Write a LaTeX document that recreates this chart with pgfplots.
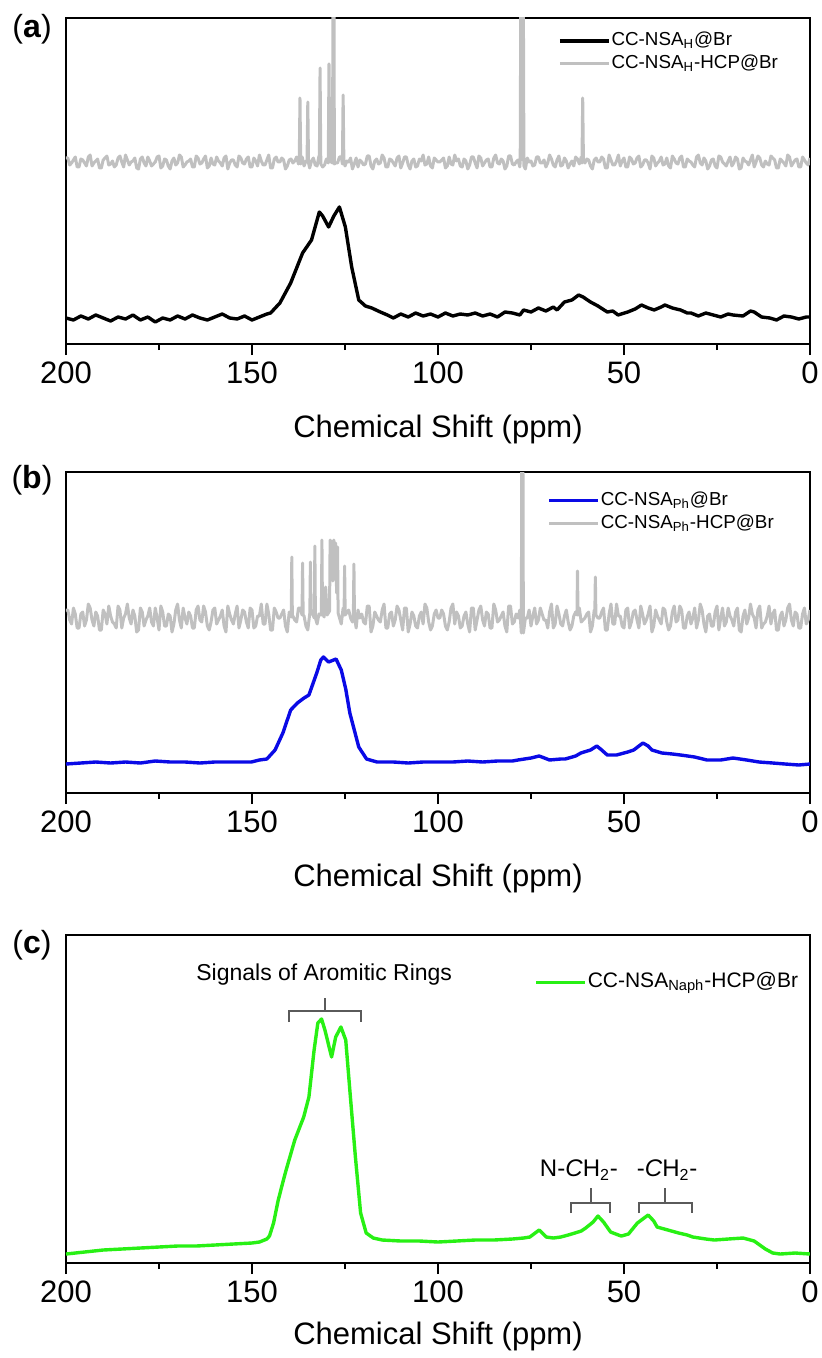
\documentclass[border=0pt]{standalone}
\usepackage{fontspec}
\setmainfont{Liberation Sans}
\usepackage{pgfplots}
\usepackage{pgfplotstable}
\pgfplotsset{compat=1.18}

\definecolor{hcpgrey}{RGB}{192,192,192}
\definecolor{phblue}{RGB}{10,10,230}
\definecolor{naphgreen}{RGB}{40,240,20}
\definecolor{bracketgrey}{RGB}{90,90,90}

% 13C NMR spectra (ppm, intensity in arbitrary stacked units)
\pgfplotstableread[row sep=\\]{
x y\\
200 186\\199.5 186\\199 179\\198.5 181\\198 184\\197.5 187\\197 177\\196.5 177\\196 185\\195.5 184\\195 181\\194.5 178\\194 187\\193.5 189\\193 178\\192.5 181\\192 183\\191.5 185\\191 176\\190.5 176\\
190 184\\189.5 186\\189 188\\188.5 179\\188 180\\187.5 183\\187 177\\186.5 179\\186 186\\185.5 188\\185 182\\184.5 177\\184 189\\183.5 184\\183 179\\182.5 182\\182 183\\181.5 186\\181 176\\180.5 175\\
180 185\\179.5 187\\179 181\\178.5 178\\178 187\\177.5 183\\177 178\\176.5 180\\176 182\\175.5 187\\175 188\\174.5 176\\174 178\\173.5 185\\173 184\\172.5 178\\172 175\\171.5 183\\171 186\\170.5 179\\
170 181\\169.5 189\\169 187\\168.5 177\\168 179\\167.5 182\\167 183\\166.5 185\\166 177\\165.5 177\\165 188\\164.5 186\\164 180\\163.5 181\\163 185\\162.5 188\\162 176\\161.5 178\\161 186\\160.5 180\\
160 179\\159.5 187\\159 183\\158.5 181\\158 178\\157.5 186\\157 188\\156.5 175\\156 181\\155.5 184\\155 184\\154.5 179\\154 177\\153.5 188\\153 186\\152.5 181\\152 180\\151.5 185\\151 187\\150.5 177\\
150 177\\149.5 186\\149 183\\148.5 178\\148 189\\147.5 183\\147 179\\146.5 179\\146 184\\145.5 189\\145 176\\144.5 176\\144 185\\143.5 187\\143 182\\142.5 182\\142 186\\141.5 184\\141 175\\140.5 178\\
140 184\\139.5 185\\139 181\\138.5 183\\138 187\\137.5 180\\137.3 182\\137.1 246\\136.9 180\\136.5 187\\136 178\\135.5 183\\135.2 183\\135.0 242\\134.8 181\\134.5 176\\
134 183\\133.5 186\\133 179\\132.5 178\\132 188\\131.9 182\\131.7 276\\131.5 180\\131 177\\130.5 179\\130 185\\129.5 181\\129.3 280\\129.1 183\\
128.35 181\\128.2 400\\128.1 183\\128.0 400\\127.85 180\\127.5 181\\127 181\\126.5 187\\126 187\\125.7 180\\125.5 249\\125.3 183\\
125 178\\124.5 183\\124 182\\123.5 186\\123 175\\122.5 180\\122 186\\121.5 177\\121 184\\120.5 182\\120 179\\119.5 180\\119 188\\118.5 188\\118 178\\117.5 175\\117 183\\116.5 185\\116 180\\115.5 181\\
115 189\\114.5 186\\114 177\\113.5 177\\113 185\\112.5 184\\112 181\\111.5 178\\111 186\\110.5 188\\110 176\\109.5 181\\109 187\\108.5 187\\108 179\\107.5 175\\107 183\\106.5 185\\106 177\\105.5 178\\
105 185\\104.5 183\\104 189\\103.5 179\\103 180\\102.5 187\\102 178\\101.5 176\\101 186\\100.5 184\\100 182\\99.5 182\\99 184\\98.5 186\\98 176\\97.5 178\\97 187\\96.5 180\\96 179\\95.5 189\\
95 183\\94.5 185\\94 178\\93.5 177\\93 185\\92.5 183\\92 175\\91.5 179\\91 187\\90.5 187\\90 181\\89.5 176\\89 188\\88.5 186\\88 178\\87.5 181\\87 184\\86.5 185\\86 177\\85.5 177\\
85 186\\84.5 189\\84 181\\83.5 180\\83 185\\82.5 183\\82 175\\81.5 178\\81 188\\80.5 188\\80 180\\79.5 179\\79 182\\78.5 184\\78 177\\77.9 183\\77.7 400\\77.55 185\\77.4 400\\77.25 184\\77.1 400\\76.9 178\\76.5 175\\
76 186\\75.5 182\\75 183\\74.5 178\\74 179\\73.5 187\\73 187\\72.5 181\\72 181\\71.5 184\\71 177\\70.5 181\\70 189\\69.5 185\\69 179\\68.5 177\\68 184\\67.5 188\\67 178\\66.5 179\\
66 186\\65.5 183\\65 176\\64.5 180\\64 183\\63.5 178\\63 187\\62.5 185\\62 180\\61.5 187\\61.3 181\\61.1 246\\60.9 183\\60.5 181\\60 185\\59.5 184\\59 178\\58.5 175\\58 184\\57.5 186\\57 182\\56.5 182\\56 187\\55.5 185\\55 176\\54.5 176\\
54 189\\53.5 184\\53 179\\52.5 179\\52 183\\51.5 189\\51 178\\50.5 183\\50 186\\49.5 177\\49 177\\48.5 187\\48 185\\47.5 180\\47 181\\46.5 186\\46 188\\45.5 177\\45 179\\44.5 184\\
44 184\\43.5 181\\43 175\\42.5 188\\42 186\\41.5 178\\41 181\\40.5 183\\40 187\\39.5 179\\39 180\\38.5 186\\38 178\\37.5 176\\37 188\\36.5 185\\36 181\\35.5 180\\35 186\\34.5 188\\
34 177\\33.5 177\\33 185\\32.5 183\\32 182\\31.5 179\\31 177\\30.5 187\\30 189\\29.5 181\\29 179\\28.5 186\\28 183\\27.5 175\\27 178\\26.5 184\\26 185\\25.5 178\\25 176\\24.5 188\\
24 187\\23.5 182\\23 180\\22.5 178\\22 183\\21.5 187\\21 178\\20.5 181\\20 187\\19.5 185\\19 175\\18.5 176\\18 186\\17.5 183\\17 182\\16.5 179\\16 184\\15.5 189\\15 177\\14.5 182\\
14 188\\13.5 186\\13 179\\12.5 177\\12 183\\11.5 180\\11 179\\10.5 188\\10 186\\9.5 184\\9 176\\8.5 176\\8 185\\7.5 183\\7 181\\6.5 178\\6 189\\5.5 187\\5 178\\4.5 181\\
4 184\\3.5 185\\3 177\\2.5 177\\2 187\\1.5 184\\1 181\\0.5 179\\0 186\\
}\hcpH

\pgfplotstableread[row sep=\\]{
x y\\
200 26\\198 24\\196 28\\194 25\\192 29\\190 26\\188 23\\186 27\\184 25\\182 29\\
180 24\\178 27\\176 22\\174 26\\172 24\\170 28\\168 25\\166 29\\164 26\\162 24\\
160 27\\158 30\\156 26\\154 25\\152 28\\150 24\\148 27\\146 30\\145 31\\142.5 41\\
139.6 61\\136.4 91\\134 104\\131.9 132\\131 128\\129.4 117\\128 128\\126.5 137\\124.9 117\\123.2 77\\
121.3 44\\119.5 38\\117.8 36\\115.5 32\\113.6 29\\112 26\\110 30\\108 27\\106 31\\104 28\\
102 30\\100 27\\98 31\\96 28\\94 30\\92 29\\90 31\\88 28\\86 30\\84 27\\
82 32\\80 31\\78 29\\77 34\\75 32\\73 36\\71 33\\69 37\\68 34\\66 42\\
64 44\\62.2 49\\61 47\\59 42\\57 38\\54.5 32\\53 33\\51.6 29\\49 32\\47 35\\
45.3 39\\43.5 36\\41.9 34\\40 37\\39 39\\37 36\\34.8 34\\33 31\\32 31\\30 28\\
28 31\\26 29\\24 27\\22 30\\20.7 29\\18 28\\16 33\\15 32\\13 27\\10.8 26\\
9 24\\7 28\\5 27\\3 25\\1 27\\0 27\\
}\nsaH

\pgfplotstableread[row sep=\\]{
x y\\
200 183\\199.5 183\\199 173\\198.5 169\\198 185\\197.5 179\\197 165\\196.5 165\\196 179\\195.5 181\\195 167\\194.5 173\\194 189\\193.5 185\\193 173\\192.5 167\\192 181\\191.5 177\\191 163\\190.5 163\\
190 183\\189.5 179\\189 169\\188.5 187\\188 177\\187.5 171\\187 169\\186.5 165\\186 187\\185.5 183\\185 165\\184.5 175\\184 179\\183.5 189\\183 175\\182.5 169\\182 183\\181.5 177\\181 161\\180.5 163\\
180 185\\179.5 181\\179 167\\178.5 173\\178 177\\177.5 185\\177 171\\176.5 167\\176 185\\175.5 175\\175 163\\174.5 187\\174 181\\173.5 167\\173 167\\172.5 179\\172 177\\171.5 161\\171 169\\170.5 183\\
170 189\\169.5 173\\169 165\\168.5 185\\168 175\\167.5 169\\167 181\\166.5 177\\166 165\\165.5 165\\165 183\\164.5 187\\164 173\\163.5 171\\163 187\\162.5 181\\162 167\\161.5 163\\161 171\\160.5 183\\
160 185\\159.5 169\\159 173\\158.5 177\\158 183\\157.5 167\\157 161\\156.5 187\\156 179\\155.5 173\\155 169\\154.5 179\\154 187\\153.5 165\\153 173\\152.5 183\\152 181\\151.5 171\\151 165\\150.5 185\\
150 183\\149.5 165\\149 167\\148.5 177\\148 177\\147.5 189\\147 169\\146.5 169\\146 189\\145.5 179\\145 163\\144.5 163\\144 185\\143.5 181\\143 175\\142.5 175\\142 179\\141.5 183\\141 167\\140.5 161\\
140 181\\139.45 176\\139.3 236\\139.15 176\\139 177\\138.5 173\\138 171\\137.5 185\\137 185\\136.55 178\\136.4 230\\136.25 178\\136 177\\135.5 167\\135 163\\
134.45 180\\134.3 231\\134.15 180\\134 183\\133.5 177\\133.25 175\\133.1 247\\132.95 175\\132.5 169\\132 179\\
131.35 178\\131.2 253\\131.05 180\\130.6 176\\130.2 206\\129.8 178\\129.15 182\\129.0 253\\128.75 215\\128.5 252\\
128.25 212\\128.0 253\\127.75 214\\127.5 250\\127.25 200\\127.0 246\\126.85 180\\126 169\\125.5 185\\125.25 178\\125.1 227\\124.95 178\\
124 183\\123.5 175\\123 171\\122.75 176\\122.6 229\\122.45 176\\122 165\\121.5 183\\121 175\\120.5 179\\
120 171\\119.5 169\\119 187\\118.5 187\\118 161\\117.5 167\\117 181\\116.5 177\\116 173\\115.5 171\\115 183\\114.5 189\\114 165\\113.5 165\\113 179\\112.5 181\\112 167\\111.5 173\\111 187\\110.5 183\\
110 173\\109.5 163\\109 185\\108.5 185\\108 161\\107.5 169\\107 181\\106.5 177\\106 167\\105.5 165\\105 177\\104.5 181\\104 169\\103.5 189\\103 185\\102.5 171\\102 163\\101.5 167\\101 179\\100.5 183\\
100 175\\99.5 175\\99 183\\98.5 179\\98 167\\97.5 163\\97 171\\96.5 185\\96 189\\95.5 169\\95 181\\94.5 177\\94 165\\93.5 167\\93 177\\92.5 181\\92 169\\91.5 161\\91 185\\90.5 185\\
90 163\\89.5 173\\89 183\\88.5 187\\88 173\\87.5 167\\87 181\\86.5 179\\86 165\\85.5 165\\85 189\\84.5 183\\84 171\\83.5 173\\83 177\\82.5 181\\82 167\\81.5 161\\81 187\\80.5 187\\
80 169\\79.5 171\\79 179\\78.5 175\\78 183\\77.6 160\\77.45 400\\77.3 170\\77.2 400\\77.05 160\\77 161\\76.5 175\\76 175\\75.5 183\\75 167\\74.5 177\\74 185\\73.5 169\\73 173\\72.5 185\\72 179\\71.5 173\\71 173\\70.5 165\\
70 181\\69.5 189\\69 165\\68.5 169\\68 187\\67.5 179\\67 169\\66.5 167\\66 177\\65.5 183\\65 171\\64.5 163\\64 167\\63.5 177\\63 181\\62.65 178\\62.5 222\\62.35 178\\62 185\\61.5 171\\61 173\\60.5 175\\
60 179\\59.5 181\\59 161\\58.5 167\\58 183\\57.85 178\\57.7 216\\57.55 178\\57 175\\56.5 175\\56 181\\55.5 185\\55 163\\54.5 163\\54 179\\53.5 189\\53 169\\52.5 169\\52 189\\51.5 177\\51 177\\50.5 167\\
50 165\\49.5 183\\49 185\\48.5 165\\48 171\\47.5 181\\47 183\\46.5 173\\46 165\\45.5 187\\45 179\\44.5 169\\44 173\\43.5 179\\43 187\\42.5 161\\42 167\\41.5 183\\41 177\\40.5 173\\
40 169\\39.5 185\\39 183\\38.5 171\\38 163\\37.5 167\\37 181\\36.5 187\\36 171\\35.5 173\\35 187\\34.5 183\\34 165\\33.5 165\\33 177\\32.5 181\\32 169\\31.5 175\\31 185\\30.5 165\\
30 173\\29.5 189\\29 183\\28.5 169\\28 161\\27.5 177\\27 179\\26.5 167\\26 167\\25.5 181\\25 187\\24.5 163\\24 175\\23.5 185\\23 167\\22.5 171\\22 185\\21.5 177\\21 173\\20.5 167\\
20 181\\19.5 185\\19 163\\18.5 161\\18 177\\17.5 183\\17 169\\16.5 175\\16 189\\15.5 179\\15 175\\14.5 165\\14 183\\13.5 187\\13 165\\12.5 169\\12 171\\11.5 177\\11 187\\10.5 169\\
10 179\\9.5 183\\9 163\\8.5 163\\8 177\\7.5 181\\7 167\\6.5 173\\6 185\\5.5 189\\5 173\\4.5 167\\4 181\\3.5 179\\3 165\\2.5 165\\2 179\\1.5 185\\1 169\\0.5 173\\0 183\\
}\hcpPh

\pgfplotstableread[row sep=\\]{
x y\\
200 29\\196 30\\192 31\\188 30\\184 31\\180 30\\176 32\\172 31\\168 31\\164 30\\
160 31\\156 31\\152 31\\150.2 31\\148 33\\146 34\\143.8 43\\141.7 60\\139.6 83\\137.8 90\\
136 95\\134.7 98\\132.6 120\\131.5 133\\130.8 136\\129.4 131\\127.4 134\\126 123\\124.8 104\\123.7 80\\
121.3 46\\119.2 34\\116.4 31\\112 31\\108 30\\104 31\\100 31\\96 31\\92 32\\88 31\\
84 32\\80 32\\78.5 33\\75 35\\72.8 37\\70 33\\67 34\\65.8 34\\63 37\\61.6 40\\
59 43\\57.3 47\\56 43\\54.5 38\\52 38\\51 39\\49 41\\47.4 43\\44.9 50\\43.5 47\\
42.5 43\\39.8 40\\37 39\\34.8 38\\31 36\\27.7 33\\24 33\\20.7 35\\17 33\\13.7 31\\
10 30\\6.7 29\\3 28\\0 29\\
}\nsaPh

\pgfplotstableread[row sep=\\]{
x y\\
200 9\\195 11\\190 13\\185 14\\180 15\\175 16\\170 17\\165 17\\160 18\\155 19\\
150 20\\148 21\\146 24\\145.3 27\\144.2 40\\143 62\\141.9 78\\140.9 92\\138.5 123\\136.1 146\\134.7 166\\133.3 213\\
132.3 240\\131.3 244\\130.4 233\\128.6 206\\127.5 226\\126.1 236\\124.8 223\\123.7 173\\122.2 106\\120.8 50\\
119.3 30\\117.4 25\\115 23\\110 22\\105 22\\100 21\\95 22\\90 23\\85 23\\80 24\\
77 25\\75.3 26\\72.8 33\\70.9 26\\69 25\\67 26\\65 28\\63.2 30\\61.5 32\\60.3 35\\
58.3 41\\57 47\\55.5 41\\53.6 31\\51.5 28\\50.7 27\\48.8 29\\46.4 40\\43.5 48\\42 42\\
41.1 36\\38.2 33\\35.3 30\\33 28\\31.5 26\\28 24\\25.7 23\\22 24\\18 25\\15 22\\
12 14\\10 10\\8 9\\4 10\\0 9\\
}\naphHCP

\pgfplotsset{
  nmr/.style={
    scale only axis, width=372pt,
    xmin=0, xmax=200, x dir=reverse,
    xtick={0,50,100,150,200}, minor xtick={25,75,125,175},
    ytick=\empty, xtick pos=left, tick align=outside,
    major tick length=5.5pt, minor tick length=3pt,
    every tick/.append style={line width=1.2pt, black},
    axis line style={line width=1.3pt},
    /pgf/number format/assume math mode=true,
    tick label style={font=\fontsize{15.5}{18}\selectfont},
    xlabel={Chemical Shift (ppm)},
    label style={font=\fontsize{15.5}{18}\selectfont},
    xlabel style={at={(axis description cs:0.5,0)}, anchor=center, yshift=-42.5pt},
    every axis plot/.append style={line width=1.7pt, line join=round},
    legend cell align=left,
    legend style={draw=none, fill=none, inner sep=0pt, row sep=0.5pt,
      font=\fontsize{9.4}{11}\selectfont,
      nodes={inner sep=0.5pt, text height=7.5pt, text depth=2.5pt}},
    legend image code/.code={\draw[##1] (0pt,0pt) -- (24.5pt,0pt);},
  }
}

\begin{document}
\begin{tikzpicture}
\useasboundingbox (0pt,0pt) rectangle (410.5pt,-679pt);

% (a)
\begin{axis}[nmr, at={(33pt,-9pt)}, anchor=north west, height=163pt,
  ymin=0, ymax=326,
  legend style={at={(rel axis cs:0.661,0.965)}, anchor=north west}]
\addplot[black] table {\nsaH};
\addlegendentry{CC-NSA\textsubscript{H}@Br}
\addplot[hcpgrey, line width=1.5pt] table {\hcpH};
\addlegendentry{CC-NSA\textsubscript{H}-HCP@Br}
\end{axis}
\node[font=\fontsize{16}{19}\selectfont] at (16pt,-14.5pt) {(\textbf{a})};

% (b)
\begin{axis}[nmr, at={(33pt,-236pt)}, anchor=north west, height=160.5pt,
  ymin=0, ymax=321,
  legend style={at={(rel axis cs:0.6465,0.947)}, anchor=north west}]
\addplot[phblue] table {\nsaPh};
\addlegendentry{CC-NSA\textsubscript{Ph}@Br}
\addplot[hcpgrey, line width=1.5pt] table {\hcpPh};
\addlegendentry{CC-NSA\textsubscript{Ph}-HCP@Br}
\end{axis}
\node[font=\fontsize{16}{19}\selectfont] at (16pt,-240pt) {(\textbf{b})};

% (c)
\begin{axis}[nmr, at={(33pt,-467.5pt)}, anchor=north west, height=164pt,
  ymin=0, ymax=328,
  xlabel style={yshift=6pt},
  legend style={at={(rel axis cs:0.629,0.89)}, anchor=north west,
    font=\fontsize{10.5}{12}\selectfont}]
\addplot[naphgreen] table {\naphHCP};
\addlegendentry{CC-NSA\textsubscript{Naph}-HCP@Br}
% peak assignments
\draw[bracketgrey, line width=1.2pt]
  (axis cs:140.1,241) -- (axis cs:140.1,252) -- (axis cs:120.7,252) -- (axis cs:120.7,241)
  (axis cs:130.4,252) -- (axis cs:130.4,265);
\draw[bracketgrey, line width=1.2pt]
  (axis cs:64.2,50) -- (axis cs:64.2,60) -- (axis cs:53.8,60) -- (axis cs:53.8,50)
  (axis cs:58.9,60) -- (axis cs:58.9,75);
\draw[bracketgrey, line width=1.2pt]
  (axis cs:46.0,50) -- (axis cs:46.0,60) -- (axis cs:31.7,60) -- (axis cs:31.7,50)
  (axis cs:39.0,60) -- (axis cs:39.0,75);
\node[font=\fontsize{11.5}{14}\selectfont] at (axis cs:130.6,288) {Signals of Aromitic Rings};
\node[font=\fontsize{12}{14}\selectfont] at (axis cs:62.1,93) {N-\textit{C}H\textsubscript{2}-};
\node[font=\fontsize{12}{14}\selectfont] at (axis cs:38.4,93) {-\textit{C}H\textsubscript{2}-};
\end{axis}
\node[font=\fontsize{16}{19}\selectfont] at (16pt,-472.5pt) {(\textbf{c})};
\end{tikzpicture}
\end{document}
